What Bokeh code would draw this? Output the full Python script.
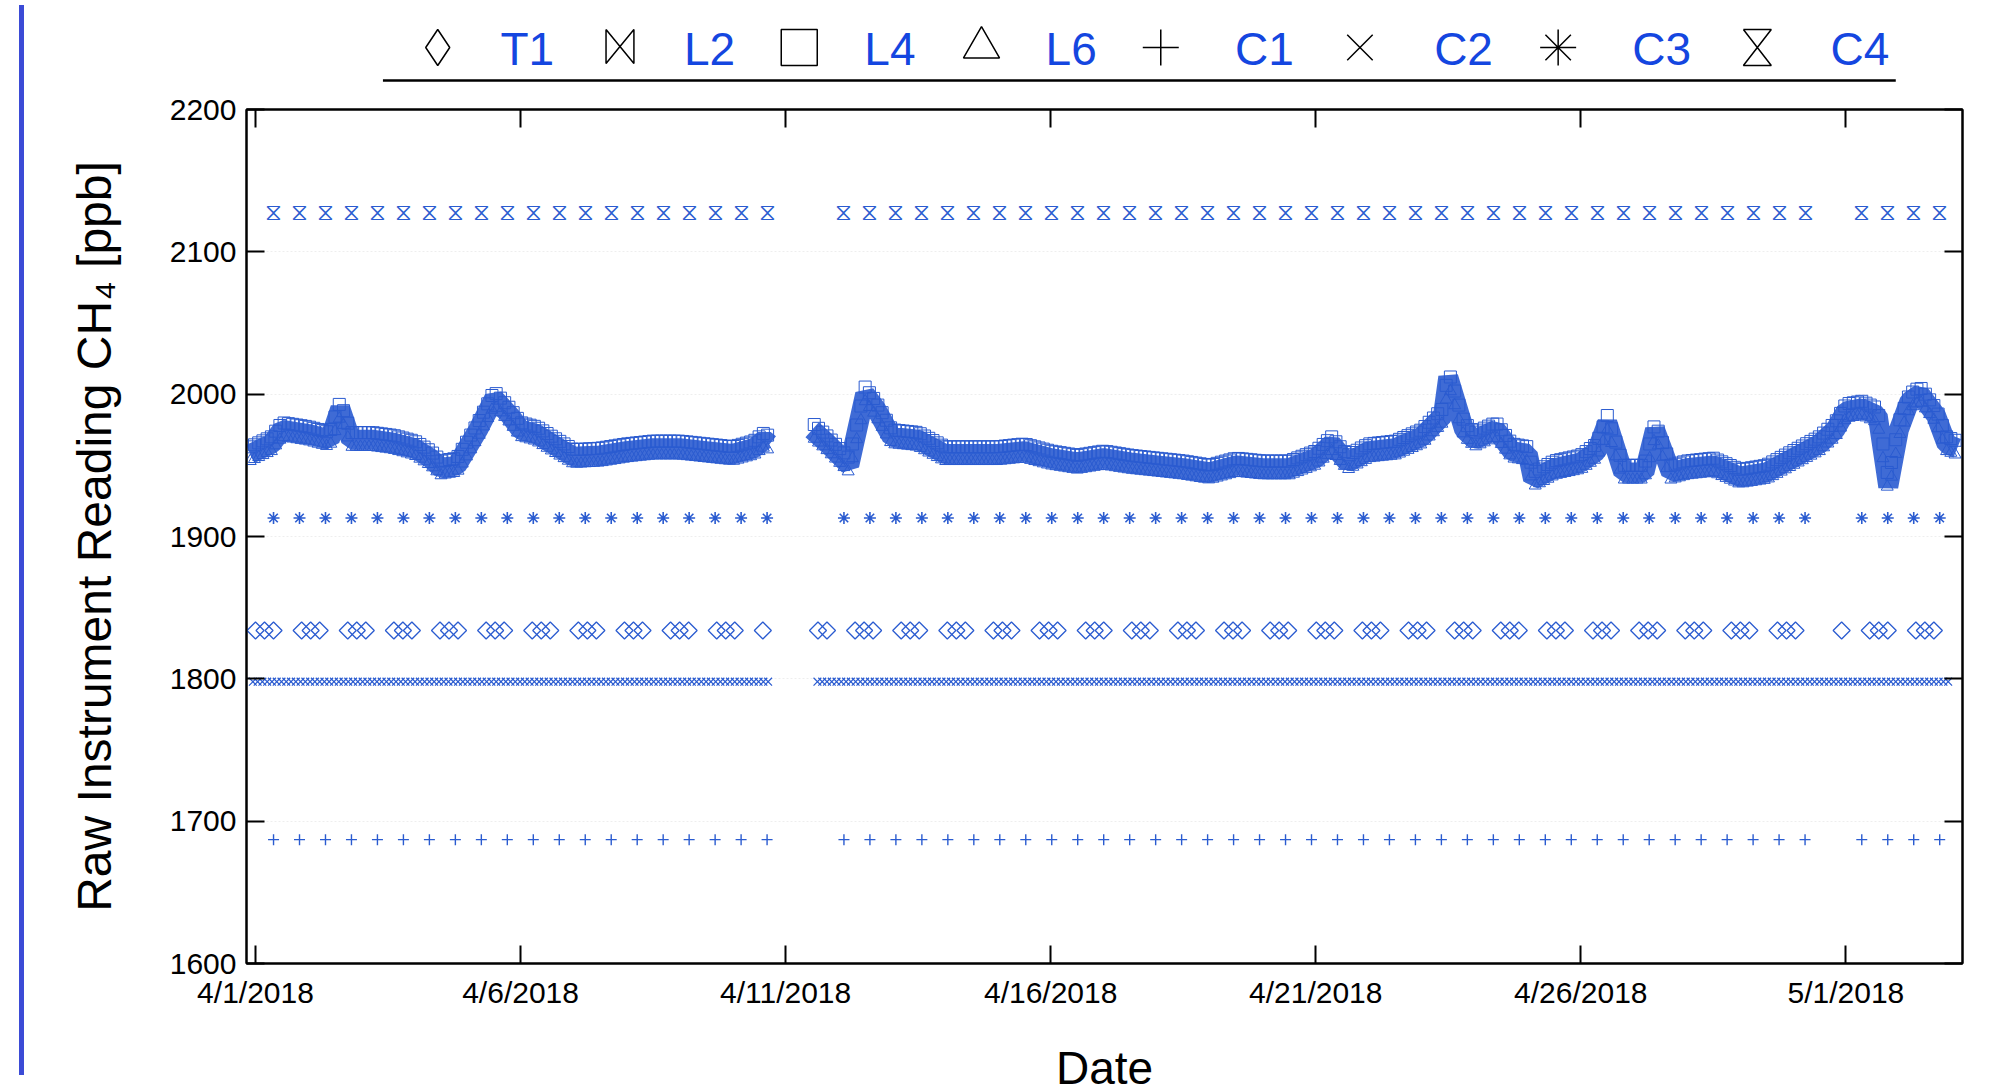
import numpy as np
from bokeh.plotting import figure
from bokeh.layouts import row, column
from bokeh.models import Range1d, FixedTicker, LinearAxis, Div
from bokeh.core.properties import value
from bokeh.embed import file_html
from bokeh.resources import INLINE

# ---- data (x = days since 4/1/2018) ----
band_t = [-0.1,0.3,0.5,1.0,1.4,1.6,1.8,2.2,2.6,3.0,3.3,3.5,3.8,4.2,4.5,4.8,5.0,5.3,5.6,6.0,
          6.5,7.0,7.5,8.0,8.5,9.0,9.4,9.6,9.7,
          None,
          10.5,10.8,11.2,11.5,11.7,12.0,12.5,13.0,14.0,14.5,15.0,15.5,16.0,16.5,17.0,17.5,18.0,
          18.5,19.0,19.5,20.0,20.3,20.6,21.0,21.5,22.0,22.4,22.5,22.8,23.0,23.4,23.7,24.0,24.1,
          24.5,25.0,25.3,25.5,25.8,26.2,26.4,26.7,27.0,27.5,28.0,28.5,29.0,29.5,29.8,30.0,30.3,
          30.6,30.8,31.0,31.2,31.4,31.7,31.9,32.1]
band_v = [1958,1965,1975,1972,1968,1990,1968,1968,1966,1962,1955,1948,1950,1975,1997,1985,
          1975,1972,1965,1956,1957,1960,1962,1962,1960,1958,1962,1968,1965,
          None,
          1975,1965,1950,2000,1990,1970,1968,1958,1958,1960,1955,1952,1955,1952,1950,1948,1945,
          1950,1948,1948,1955,1965,1952,1960,1962,1970,1985,2012,1975,1968,1975,1960,1958,1940,
          1948,1952,1960,1980,1945,1945,1975,1945,1948,1950,1942,1945,1955,1965,1975,1988,1990,
          1985,1935,1975,1995,2000,1985,1965,1962]
T1_v = 1834; C4_v = 2128; C3_v = 1913; C2_v = 1798; C1_v = 1687
seg_a = (0.34, 9.66); seg_b = (11.1, 29.3); seg_c = (30.3, 31.8)     # 12-hourly calibrations
t1_segs = [(0.0, 9.6), (10.6, 29.4), (29.8, 31.9)]
c2_segs = [(-0.05, 9.7), (10.6, 32.0)]
names = ["T1", "L2", "L4", "L6", "C1", "C2", "C3", "C4"]
x_ticks = [0, 5, 10, 15, 20, 25, 30]
x_labels = ["4/1/2018", "4/6/2018", "4/11/2018", "4/16/2018", "4/21/2018", "4/26/2018", "5/1/2018"]
y_ticks = [1600, 1700, 1800, 1900, 2000, 2100, 2200]

BLUE = "#2a5bd0"
LBLUE = "#1446e0"

def times(step):
    t = []
    for a, b in (seg_a, seg_b, seg_c):
        t += list(np.arange(a, b + 1e-6, step))
    return np.array(t)

W = 1962
BL, BR = 216, 30
LH = 87
p = figure(width=W, height=1009, x_range=Range1d(-0.17, 32.2), y_range=Range1d(1600, 2200),
           output_backend="svg", toolbar_location=None,
           min_border_left=BL, min_border_right=BR, min_border_top=22, min_border_bottom=114)
p.outline_line_color = "black"; p.outline_line_width = 2
p.xgrid.grid_line_color = None
p.ygrid.grid_line_color = "#eeeeee"; p.ygrid.grid_line_dash = "2 2"

bt = [np.nan if t is None else t for t in band_t]
bv = [np.nan if v is None else v for v in band_v]
p.line(bt, bv, line_width=20, color=BLUE, alpha=0.9)
kt = [t for t in band_t if t is not None]; kv = [v for v in band_v if v is not None]
fine_t = np.arange(-0.1, 32.1, 0.08)
fine_v = np.interp(fine_t, kt, kv)
mask = ((fine_t > 9.72) & (fine_t < 10.48))
fine_t = fine_t[~mask]; fine_v = fine_v[~mask]
p.scatter(fine_t, fine_v + 5, marker="square", size=12, fill_color=None, line_color=BLUE)
p.scatter(fine_t, fine_v - 5, marker="triangle", size=12, fill_color=None, line_color=BLUE)

tt = times(0.49)
p.text(tt, [C4_v] * len(tt), text=["⧖"] * len(tt), text_font=value("DejaVu Sans"), text_font_size="24px",
       text_color=BLUE, text_align="center", text_baseline="middle")
p.scatter(tt, [C3_v] * len(tt), marker="asterisk", size=12, line_color=BLUE, line_width=1.6)
p.scatter(tt, [C1_v] * len(tt), marker="cross", size=11, line_color=BLUE, line_width=1.4)
td = []
for d in np.arange(0, 33, 0.87):
    for k in (0.0, 0.17, 0.34):
        x = d + k
        if any(a <= x <= b for a, b in t1_segs):
            td.append(x)
p.scatter(td, [T1_v] * len(td), marker="square", angle=np.pi / 4, size=12, fill_color=None,
          line_color=BLUE, line_width=1.3)
tc = [t for a, b in c2_segs for t in np.arange(a, b, 0.09)]
p.scatter(tc, [C2_v] * len(tc), marker="x", size=11, line_color=BLUE, line_width=1.2)

p.xaxis.ticker = FixedTicker(ticks=x_ticks)
p.xaxis.major_label_overrides = dict(zip(x_ticks, x_labels))
p.yaxis.ticker = FixedTicker(ticks=y_ticks)
for ax in (p.xaxis[0], p.yaxis[0]):
    ax.major_tick_in = 18; ax.major_tick_out = 0; ax.minor_tick_line_color = None
    ax.axis_line_width = 2; ax.major_tick_line_width = 2
    ax.major_label_text_font = "Liberation Sans"; ax.major_label_text_font_size = "30px"
    ax.major_label_text_color = "black"
    ax.axis_label_text_font = "Liberation Sans"; ax.axis_label_text_font_style = "normal"
    ax.axis_label_text_font_size = "46px"; ax.axis_label_text_color = "black"
p.yaxis.axis_label_text_font_size = "48px"
p.xaxis.axis_label = "Date"; p.xaxis.axis_label_standoff = 30
p.xaxis.major_label_standoff = 12
p.yaxis.axis_label = "Raw Instrument Reading CH₄ [ppb]"; p.yaxis.axis_label_standoff = 46
p.yaxis.major_label_standoff = 10
for loc, ticks in (("right", y_ticks), ("above", x_ticks)):
    a = LinearAxis(ticker=FixedTicker(ticks=ticks), major_label_text_font_size="1px",
                   major_label_text_color=None,
                   major_tick_in=18, major_tick_out=0, minor_tick_line_color=None,
                   axis_line_width=2, major_tick_line_width=2, major_label_standoff=0)
    p.add_layout(a, loc)

# legend figure (frame aligned with main frame; x in page px)
FL, FR = 250, 1973
L = figure(width=W, height=LH, x_range=Range1d(FL, FR), y_range=Range1d(LH + 2, 2),
           output_backend="svg", toolbar_location=None, min_border=0)
L.axis.visible = False; L.grid.visible = False; L.outline_line_color = None
L.line([387, 1906], [82, 82], color="black", line_width=2.5)
mx = [442, 625, 805, 988, 1168, 1368, 1567, 1767]
tx = [532, 715, 896, 1078, 1272, 1472, 1671, 1870]
for m, x in zip(["diamond", None, "square", "triangle", "cross", "x", "asterisk", None], mx):
    if m:
        L.scatter([x], [49], marker=m, size=36, fill_color=None, line_color="black", line_width=1.5)
bx, hx = mx[1], mx[7]
L.line([bx - 14, bx + 14, bx + 14, bx - 14, bx - 14], [31, 65, 31, 65, 31], color="black", line_width=1.5)
L.line([hx - 14, hx + 14, hx - 14, hx + 14, hx - 14], [31, 31, 67, 67, 31], color="black", line_width=1.5)
L.text(tx, [50] * 8, text=names, text_font=value("Liberation Sans"), text_font_size="46px",
       text_align="center", text_baseline="middle", text_color=LBLUE)

bar = Div(width=20, height=1070,
          text='<div style="margin-left:14px;width:5px;height:1070px;background:#3b4bd6"></div>')
layout = row(bar, column(L, p))
open("out.html", "w").write(file_html(layout, INLINE))
